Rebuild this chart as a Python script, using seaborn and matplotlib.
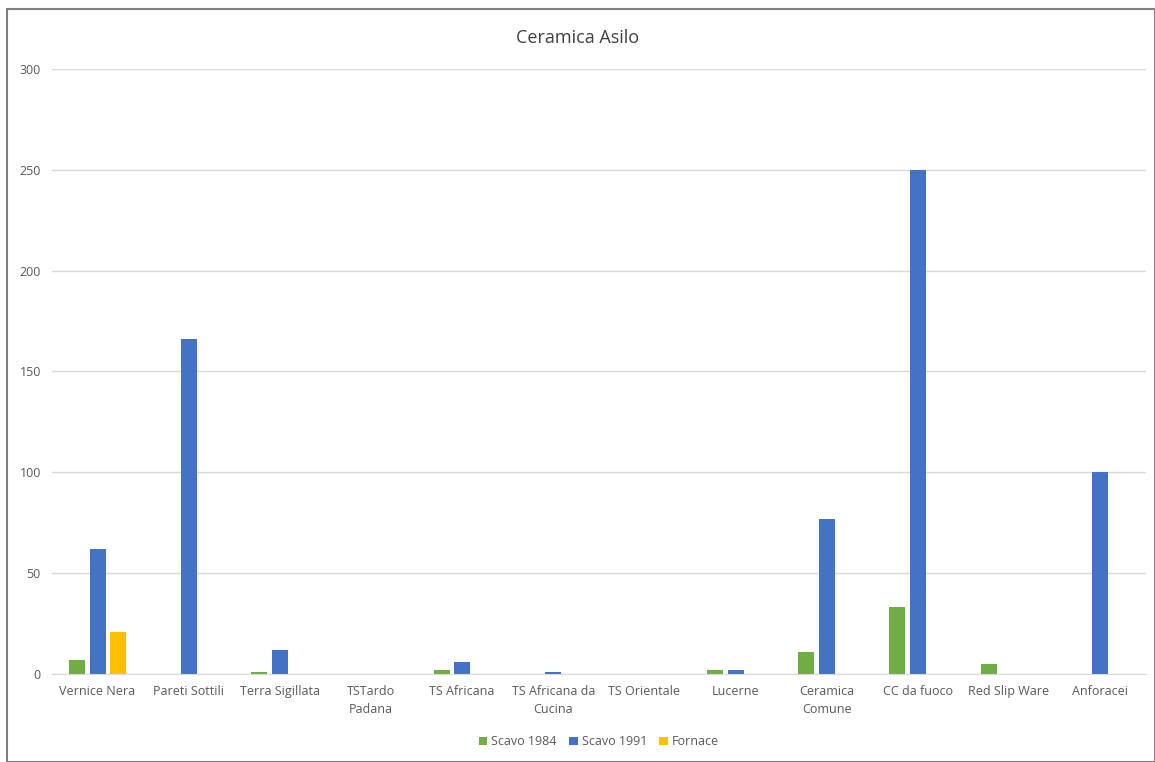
import numpy as np
import pandas as pd
import matplotlib
matplotlib.use("Agg")
import matplotlib.pyplot as plt
import seaborn as sns
from matplotlib.patches import Rectangle

# Dati
categorie = ["Vernice Nera", "Pareti Sottili", "Terra Sigillata", "TSTardo\nPadana",
             "TS Africana", "TS Africana da\nCucina", "TS Orientale", "Lucerne",
             "Ceramica\nComune", "CC da fuoco", "Red Slip Ware", "Anforacei"]
scavo_1984 = [7, 0, 1, 0, 2, 0, 0, 2, 11, 33, 5, 0]
scavo_1991 = [62, 166, 12, 0, 6, 1, 0, 2, 77, 250, 0, 100]
fornace = [21, 0, 0, 0, 0, 0, 0, 0, 0, 0, 0, 0]
serie = ["Scavo 1984", "Scavo 1991", "Fornace"]
colori = ["#70AD47", "#4472C4", "#FFC000"]

df = pd.DataFrame({
    "categoria": categorie * 3,
    "serie": np.repeat(serie, len(categorie)),
    "valore": scavo_1984 + scavo_1991 + fornace,
})

sns.set_style("white")
plt.rcParams["font.family"] = ["Open Sans", "DejaVu Sans"]

fig = plt.figure(figsize=(11.55, 7.62), dpi=100)
ax = fig.add_axes([0.045, 0.1155, 0.947, 0.794])

sns.barplot(data=df, x="categoria", y="valore", hue="serie", palette=colori,
            saturation=1, width=0.675, gap=0.22, linewidth=0, ax=ax, legend=True)

ax.set_ylim(0, 300)
ax.set_yticks(np.arange(0, 301, 50))
ax.yaxis.grid(True, color="#D9D9D9", linewidth=1)
ax.set_axisbelow(True)
for s in ["top", "right", "left"]:
    ax.spines[s].set_visible(False)
ax.spines["bottom"].set_color("#D9D9D9")
ax.tick_params(axis="both", length=0, labelsize=9, colors="#595959", pad=8)
for lab in ax.get_xticklabels():
    lab.set_linespacing(1.5)
ax.set_xlabel("")
ax.set_ylabel("")
ax.set_xlim(-0.5, len(categorie) - 0.5)

fig.text(0.5, 0.95, "Ceramica Asilo", ha="center", va="center",
         fontsize=13, color="#404040")

ax.legend(loc="center", bbox_to_anchor=(0.5, -0.112), ncol=3, frameon=False,
          fontsize=9, handlelength=0.7, handleheight=0.7, handletextpad=0.3,
          columnspacing=1.0, labelcolor="#595959")

fig.patches.append(Rectangle((0.006, 0.0), 0.994, 0.988, transform=fig.transFigure,
                             fill=False, edgecolor="#808080", linewidth=1.5))

fig.savefig("out.png", dpi=100)
